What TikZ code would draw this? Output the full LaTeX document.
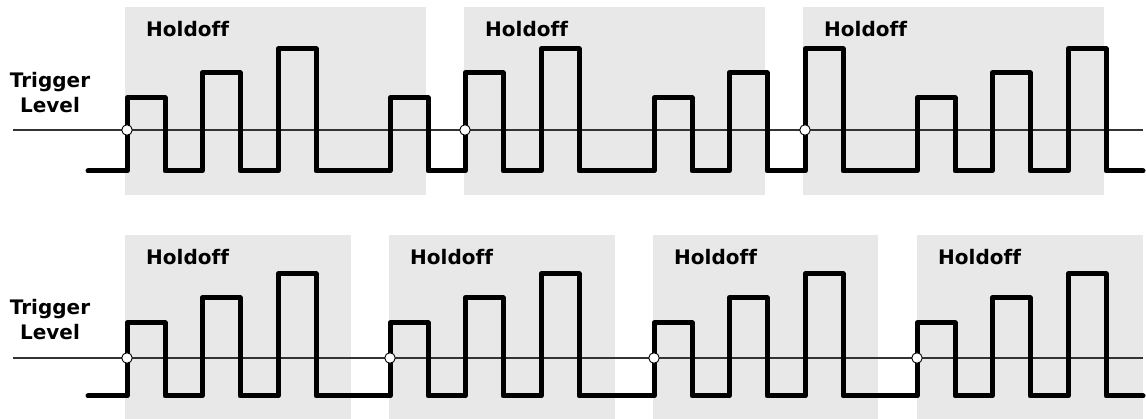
\documentclass[tikz,border=0pt]{standalone}
\usepackage{fontspec}
\setmainfont{DejaVu Sans}[Ligatures=CommonOff]
\usepackage{xcolor}
\definecolor{holdgray}{RGB}{232,232,232}
\tikzset{
  holdbox/.style={fill=holdgray, draw=none},
  signal/.style={line width=5pt, line join=round, line cap=round},
  trigline/.style={line width=1.3pt, black!80},
  trigdot/.style={circle, draw, fill=white, line width=0.9pt, minimum size=10.5pt, inner sep=0pt},
  lbl/.style={font=\fontsize{20}{24}\selectfont\bfseries, inner sep=0pt},
}
% low level, small, medium and tall pulse tops
\newcommand{\pulsetrain}[4]{%
  \draw[signal] (88,#1)
    \foreach \g in {127,390,654,917} {
      \foreach \d/\h in {0/#2,75/#3,151/#4} {
        -- (\g+\d,#1) -- (\g+\d,\h) -- (\g+\d+38,\h) -- (\g+\d+38,#1)
      }
    } -- (1143,#1);}

\begin{document}
\begin{tikzpicture}[x=1pt, y=-1pt]
\useasboundingbox (0,0) rectangle (1146,419);

% upper trace: long holdoff
\fill[holdbox] (125,7) rectangle (426,195);
\fill[holdbox] (464,7) rectangle (765,195);
\fill[holdbox] (803,7) rectangle (1104,195);
\node[lbl, anchor=base west] (hold1) at (146,37) {Holdoff};
\node[lbl, anchor=base west] (hold2) at (485,37) {Holdoff};
\node[lbl, anchor=base west] (hold3) at (824,37) {Holdoff};
\node[lbl, anchor=base] (trig1) at (50,88) {Trigger};
\node[lbl, anchor=base] (lev1) at (50,113) {Level};
\draw[trigline] (13,130) -- (1143,130);
\pulsetrain{171}{98}{73}{49}
\node[trigdot] (t1a) at (127,130) {};
\node[trigdot] (t1b) at (465,130) {};
\node[trigdot] (t1c) at (805,130) {};

% lower trace: short holdoff
\fill[holdbox] (125,235) rectangle (351,419);
\fill[holdbox] (389,235) rectangle (615,419);
\fill[holdbox] (653,235) rectangle (878,419);
\fill[holdbox] (917,235) rectangle (1143,419);
\node[lbl, anchor=base west] (hold4) at (146,265) {Holdoff};
\node[lbl, anchor=base west] (hold5) at (410,265) {Holdoff};
\node[lbl, anchor=base west] (hold6) at (674,265) {Holdoff};
\node[lbl, anchor=base west] (hold7) at (938,265) {Holdoff};
\node[lbl, anchor=base] (trig2) at (50,315) {Trigger};
\node[lbl, anchor=base] (lev2) at (50,340) {Level};
\draw[trigline] (13,358) -- (1143,358);
\pulsetrain{396}{323}{298}{274}
\node[trigdot] (t2a) at (127,358) {};
\node[trigdot] (t2b) at (390,358) {};
\node[trigdot] (t2c) at (654,358) {};
\node[trigdot] (t2d) at (917,358) {};
\end{tikzpicture}
\end{document}
